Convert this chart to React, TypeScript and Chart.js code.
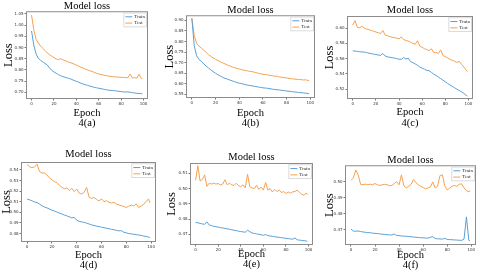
import React, { useEffect, useRef } from "react";
import { Chart, registerables } from "chart.js";

Chart.register(...registerables);

// ---------- data ----------
const EPOCHS = [0, 2, 4, 6, 8, 10, 12, 14, 16, 18, 20, 22, 24, 26, 28, 30, 32, 34, 36, 38, 40, 42, 44, 46, 48, 50, 52, 54, 56, 58, 60, 62, 64, 66, 68, 70, 72, 74, 76, 78, 80, 82, 84, 86, 88, 90, 92, 94, 96, 98, 99];
const X_TICKS = [0, 20, 40, 60, 80, 100];

const TRAIN_A = [0.974, 0.911, 0.872, 0.852, 0.843, 0.836, 0.829, 0.822, 0.809, 0.798, 0.791, 0.785, 0.779, 0.774, 0.770, 0.767, 0.764, 0.761, 0.757, 0.753, 0.749, 0.745, 0.741, 0.737, 0.734, 0.731, 0.728, 0.725, 0.722, 0.720, 0.718, 0.716, 0.714, 0.712, 0.710, 0.709, 0.708, 0.707, 0.706, 0.704, 0.703, 0.702, 0.701, 0.702, 0.700, 0.698, 0.697, 0.695, 0.695, 0.694, 0.693];
const TEST_A = [1.045, 0.980, 0.937, 0.920, 0.907, 0.897, 0.886, 0.876, 0.868, 0.862, 0.855, 0.849, 0.846, 0.850, 0.845, 0.841, 0.837, 0.833, 0.830, 0.826, 0.822, 0.817, 0.812, 0.808, 0.804, 0.800, 0.796, 0.793, 0.789, 0.785, 0.782, 0.779, 0.777, 0.775, 0.773, 0.772, 0.770, 0.769, 0.768, 0.768, 0.767, 0.766, 0.766, 0.765, 0.781, 0.764, 0.765, 0.763, 0.781, 0.761, 0.761];

const TRAIN_B = [0.909, 0.780, 0.733, 0.715, 0.706, 0.694, 0.684, 0.675, 0.666, 0.658, 0.650, 0.643, 0.637, 0.631, 0.626, 0.622, 0.618, 0.614, 0.610, 0.606, 0.603, 0.601, 0.598, 0.595, 0.593, 0.591, 0.589, 0.587, 0.585, 0.583, 0.581, 0.580, 0.579, 0.577, 0.575, 0.573, 0.572, 0.571, 0.569, 0.568, 0.566, 0.565, 0.563, 0.562, 0.561, 0.559, 0.558, 0.557, 0.556, 0.554, 0.553];
const TEST_B = [0.910, 0.827, 0.792, 0.778, 0.769, 0.759, 0.749, 0.738, 0.730, 0.722, 0.716, 0.710, 0.704, 0.699, 0.694, 0.689, 0.685, 0.680, 0.676, 0.673, 0.670, 0.667, 0.664, 0.662, 0.660, 0.658, 0.656, 0.653, 0.650, 0.648, 0.645, 0.644, 0.642, 0.640, 0.638, 0.636, 0.636, 0.632, 0.631, 0.629, 0.628, 0.625, 0.624, 0.623, 0.621, 0.621, 0.620, 0.618, 0.619, 0.616, 0.614];

const TRAIN_C = [0.5703, 0.5700, 0.5695, 0.5690, 0.5688, 0.5686, 0.5680, 0.5672, 0.5665, 0.5660, 0.5655, 0.5648, 0.5642, 0.5667, 0.5635, 0.5624, 0.5618, 0.5612, 0.5608, 0.5600, 0.5593, 0.5590, 0.5615, 0.5595, 0.5606, 0.5560, 0.5548, 0.5530, 0.5512, 0.5490, 0.5475, 0.5462, 0.5445, 0.5442, 0.5420, 0.5397, 0.5380, 0.5358, 0.5338, 0.5318, 0.5296, 0.5275, 0.5255, 0.5236, 0.5218, 0.5200, 0.5182, 0.5165, 0.5145, 0.5118, 0.5108];
const TEST_C = [0.604, 0.610, 0.601, 0.6005, 0.6025, 0.600, 0.599, 0.598, 0.597, 0.596, 0.595, 0.594, 0.593, 0.597, 0.591, 0.590, 0.589, 0.588, 0.5875, 0.587, 0.586, 0.5885, 0.585, 0.584, 0.583, 0.5815, 0.580, 0.579, 0.5835, 0.5765, 0.575, 0.573, 0.572, 0.5705, 0.573, 0.568, 0.5685, 0.5665, 0.5715, 0.564, 0.5625, 0.561, 0.559, 0.558, 0.5565, 0.555, 0.5565, 0.5525, 0.549, 0.545, 0.543];

const TRAIN_D = [0.5125, 0.5118, 0.5108, 0.5098, 0.5092, 0.5078, 0.5062, 0.5050, 0.5042, 0.5032, 0.5020, 0.5012, 0.5003, 0.4993, 0.4985, 0.4975, 0.4967, 0.4958, 0.4948, 0.4952, 0.4925, 0.4915, 0.4910, 0.4905, 0.4898, 0.4890, 0.4882, 0.4875, 0.4870, 0.4865, 0.4860, 0.4855, 0.4850, 0.4845, 0.4840, 0.4835, 0.4830, 0.4825, 0.4827, 0.4812, 0.4806, 0.4800, 0.4797, 0.4793, 0.4790, 0.4786, 0.4782, 0.4776, 0.4772, 0.4766, 0.4762];
const TEST_D = [0.5450, 0.5430, 0.5422, 0.5428, 0.5455, 0.5385, 0.5370, 0.5372, 0.5352, 0.5325, 0.5308, 0.5290, 0.5280, 0.5255, 0.5238, 0.5222, 0.5230, 0.5205, 0.5228, 0.5196, 0.5220, 0.5182, 0.5173, 0.5190, 0.5235, 0.5142, 0.5132, 0.5140, 0.5122, 0.5108, 0.5128, 0.5100, 0.5110, 0.5094, 0.5087, 0.5095, 0.5078, 0.5070, 0.5062, 0.5055, 0.5046, 0.5058, 0.5068, 0.5060, 0.5080, 0.5046, 0.5060, 0.5075, 0.5105, 0.5125, 0.5090];

const TRAIN_E = [0.4778, 0.4776, 0.4772, 0.4768, 0.4766, 0.4782, 0.4762, 0.4757, 0.4753, 0.4750, 0.4747, 0.4744, 0.4742, 0.4739, 0.4736, 0.4733, 0.4730, 0.4727, 0.4724, 0.4721, 0.4718, 0.4716, 0.4714, 0.4727, 0.4718, 0.4709, 0.4706, 0.4703, 0.4700, 0.4697, 0.4694, 0.4698, 0.4692, 0.4689, 0.4687, 0.4684, 0.4682, 0.4680, 0.4678, 0.4676, 0.4674, 0.4672, 0.4670, 0.4668, 0.4676, 0.4664, 0.4662, 0.4660, 0.4658, 0.4656, 0.4655];
const TEST_E = [0.5055, 0.5150, 0.5050, 0.5060, 0.5090, 0.5015, 0.5035, 0.5030, 0.5036, 0.5030, 0.5033, 0.5024, 0.5030, 0.5058, 0.5025, 0.5035, 0.5025, 0.5020, 0.5035, 0.5020, 0.5012, 0.5025, 0.5005, 0.5095, 0.5012, 0.5005, 0.5000, 0.5022, 0.4995, 0.5010, 0.4990, 0.5040, 0.4990, 0.5000, 0.4978, 0.4995, 0.4980, 0.4990, 0.4975, 0.4980, 0.4968, 0.4978, 0.4970, 0.4978, 0.4982, 0.4990, 0.4975, 0.4962, 0.4956, 0.4972, 0.4960];

const TRAIN_F = [0.4705, 0.4690, 0.4690, 0.4691, 0.4688, 0.4685, 0.4683, 0.4681, 0.4680, 0.4678, 0.4676, 0.4675, 0.4673, 0.4671, 0.4670, 0.4668, 0.4667, 0.4666, 0.4672, 0.4663, 0.4662, 0.4660, 0.4659, 0.4658, 0.4656, 0.4655, 0.4653, 0.4652, 0.4650, 0.4649, 0.4648, 0.4647, 0.4646, 0.4652, 0.4655, 0.4644, 0.4642, 0.4641, 0.4640, 0.4645, 0.4638, 0.4637, 0.4636, 0.4635, 0.4634, 0.4633, 0.4632, 0.4640, 0.4780, 0.4632, 0.4628];
const TEST_F = [0.5010, 0.5025, 0.5075, 0.5045, 0.4985, 0.4982, 0.4986, 0.4982, 0.4986, 0.4982, 0.4990, 0.4982, 0.4978, 0.4982, 0.4985, 0.4982, 0.4976, 0.4978, 0.4990, 0.5002, 0.4982, 0.5045, 0.4975, 0.4962, 0.4972, 0.4985, 0.5015, 0.4995, 0.4982, 0.4972, 0.4965, 0.4957, 0.4962, 0.4968, 0.5000, 0.4962, 0.4972, 0.5040, 0.5045, 0.4975, 0.4950, 0.4960, 0.4972, 0.4978, 0.4972, 0.4985, 0.4988, 0.4962, 0.4945, 0.4938, 0.4943];

const Y_TICKS_A = [0.70, 0.75, 0.80, 0.85, 0.90, 0.95, 1.00, 1.05];
const Y_TICKS_B = [0.55, 0.60, 0.65, 0.70, 0.75, 0.80, 0.85, 0.90];
const Y_TICKS_C = [0.52, 0.54, 0.56, 0.58, 0.60];
const Y_TICKS_D = [0.48, 0.49, 0.50, 0.51, 0.52, 0.53, 0.54];
const Y_TICKS_E = [0.47, 0.48, 0.49, 0.50, 0.51];
const Y_TICKS_F = [0.47, 0.48, 0.49, 0.50];

const CAPTIONS = ["4(a)", "4(b)", "4(c)", "4(d)", "4(e)", "4(f)"];
const TITLE = "Model loss";
const X_LABEL = "Epoch";
const Y_LABEL = "Loss";
const SERIES_NAMES = ["Train", "Test"];

// ---------- styling / layout ----------
const SERIF = '"Liberation Serif", "Times New Roman", serif';
const SANS = '"DejaVu Sans", sans-serif';
const BLUE = "#5a9fd4";
const ORANGE = "#f5a14f";

type PanelSpec = {
  train: number[]; test: number[]; yTicks: number[]; caption: string;
  yMin: number; yMax: number;
  left: number; top: number; w: number; h: number;
  L: number; R: number; T: number; B: number;
  titleY: number; capY: number; lossX: number;
};

const PANELS: PanelSpec[] = [
  { train: TRAIN_A, test: TEST_A, yTicks: Y_TICKS_A, caption: CAPTIONS[0], yMin: 0.670, yMax: 1.062, left: 0, top: 0, w: 160, h: 136, L: 26, R: 148, T: 11, B: 99, titleY: 6, capY: 123.5, lossX: 9 },
  { train: TRAIN_B, test: TEST_B, yTicks: Y_TICKS_B, caption: CAPTIONS[1], yMin: 0.533, yMax: 0.924, left: 160, top: 0, w: 160, h: 136, L: 26, R: 155, T: 15, B: 98, titleY: 10, capY: 123.3, lossX: 9.3 },
  { train: TRAIN_C, test: TEST_C, yTicks: Y_TICKS_C, caption: CAPTIONS[2], yMin: 0.507, yMax: 0.616, left: 320, top: 0, w: 160, h: 136, L: 27, R: 153, T: 16, B: 99, titleY: 10, capY: 123, lossX: 10 },
  { train: TRAIN_D, test: TEST_D, yTicks: Y_TICKS_D, caption: CAPTIONS[3], yMin: 0.472, yMax: 0.5475, left: 0, top: 136, w: 160, h: 137, L: 21, R: 156, T: 26, B: 106, titleY: 18.3, capY: 129.3, lossX: 6.5 },
  { train: TRAIN_E, test: TEST_E, yTicks: Y_TICKS_E, caption: CAPTIONS[4], yMin: 0.463, yMax: 0.5168, left: 160, top: 136, w: 160, h: 137, L: 30, R: 153, T: 27, B: 109, titleY: 21.7, capY: 128.3, lossX: 11.7 },
  { train: TRAIN_F, test: TEST_F, yTicks: Y_TICKS_F, caption: CAPTIONS[5], yMin: 0.4603, yMax: 0.5105, left: 320, top: 136, w: 160, h: 137, L: 25, R: 156, T: 29, B: 109, titleY: 24, capY: 129.3, lossX: 10 },
];

const chromePlugin = {
  id: "chrome",
  afterDatasetsDraw(chart: any) {
    const { ctx, chartArea: a } = chart;
    ctx.save();
    // axes frame
    ctx.strokeStyle = "#8c8c8c";
    ctx.lineWidth = 1;
    ctx.strokeRect(a.left + 0.5, a.top + 0.5, a.right - a.left - 1, a.bottom - a.top - 1);
    // legend (upper right, inside axes)
    ctx.font = `5px ${SERIF}`;
    const ds = chart.data.datasets;
    const names: string[] = ds.map((d: any) => d.label);
    const tw = Math.max(...names.map((n) => ctx.measureText(n).width));
    const padX = 1.5, handle = 7, gap = 2, row = 6.3, padY = 0.6;
    const w = padX + handle + gap + tw + padX;
    const h = padY * 2 + row * names.length;
    const x0 = a.right - 1.5 - w;
    const y0 = a.top + 1.8;
    ctx.fillStyle = "rgba(255,255,255,0.85)";
    ctx.fillRect(x0, y0, w, h);
    ctx.strokeStyle = "#d2d2d2";
    ctx.lineWidth = 0.8;
    ctx.strokeRect(x0, y0, w, h);
    names.forEach((n, i) => {
      const cy = y0 + padY + row * i + row / 2;
      ctx.strokeStyle = ds[i].borderColor;
      ctx.lineWidth = 1;
      ctx.beginPath();
      ctx.moveTo(x0 + padX, cy);
      ctx.lineTo(x0 + padX + handle, cy);
      ctx.stroke();
      ctx.fillStyle = "#222";
      ctx.textBaseline = "middle";
      ctx.textAlign = "left";
      ctx.fillText(n, x0 + padX + handle + gap, cy);
    });
    ctx.restore();
  },
};

function Panel({ p }: { p: PanelSpec }) {
  const ref = useRef<HTMLCanvasElement | null>(null);
  useEffect(() => {
    const canvas = ref.current;
    if (!canvas) return;
    const tickGrid = { display: true, drawOnChartArea: false, drawTicks: true, tickLength: 1.5, color: "#555", lineWidth: 0.8 };
    const chart = new Chart(canvas, {
      type: "line",
      data: {
        datasets: [
          { label: SERIES_NAMES[0], data: EPOCHS.map((x, i) => ({ x, y: p.train[i] })), borderColor: BLUE, backgroundColor: BLUE, borderWidth: 1, pointRadius: 0, fill: false, tension: 0 },
          { label: SERIES_NAMES[1], data: EPOCHS.map((x, i) => ({ x, y: p.test[i] })), borderColor: ORANGE, backgroundColor: ORANGE, borderWidth: 1, pointRadius: 0, fill: false, tension: 0 },
        ],
      },
      options: {
        responsive: false,
        animation: false,
        devicePixelRatio: 1,
        layout: { padding: { left: 0, top: 0, right: p.w - p.R, bottom: 0 } },
        plugins: {
          legend: { display: false },
          tooltip: { enabled: false },
          title: {
            display: true,
            text: TITLE,
            fullSize: false,
            color: "#000",
            font: { family: SERIF, size: 10.5, lineHeight: 1, weight: "normal" },
            padding: { top: p.titleY - 5.25, bottom: Math.max(0, p.T - p.titleY - 5.25) },
          },
        },
        scales: {
          x: {
            type: "linear",
            min: -4.95,
            max: 103.95,
            afterBuildTicks: (s: any) => { s.ticks = X_TICKS.map((v) => ({ value: v })); },
            afterFit: (s: any) => { s.height = p.h - p.B; },
            ticks: { font: { family: SANS, size: 4 }, color: "#333", padding: 1, maxRotation: 0, autoSkip: false, callback: (v: any) => String(v) },
            grid: tickGrid,
            border: { display: false },
            title: {
              display: true,
              text: [X_LABEL, p.caption],
              color: "#000",
              font: { family: SERIF, size: 10.5, lineHeight: 1.0 },
              padding: { top: 0, bottom: p.h - p.capY - 5.25 },
            },
          },
          y: {
            type: "linear",
            min: p.yMin,
            max: p.yMax,
            afterBuildTicks: (s: any) => { s.ticks = p.yTicks.map((v) => ({ value: v })); },
            afterFit: (s: any) => { s.width = p.L; },
            ticks: { font: { family: SANS, size: 4 }, color: "#333", padding: 1, autoSkip: false, callback: (v: any) => Number(v).toFixed(2) },
            grid: tickGrid,
            border: { display: false },
            title: {
              display: true,
              text: Y_LABEL,
              color: "#000",
              font: { family: SERIF, size: 12.5, lineHeight: 1 },
              padding: { top: p.lossX - 6.25, bottom: 0 },
            },
          },
        },
      },
      plugins: [chromePlugin],
    } as any);
    return () => chart.destroy();
  }, [p]);
  return (
    <canvas
      ref={ref}
      width={p.w}
      height={p.h}
      style={{ position: "absolute", left: p.left, top: p.top, width: p.w, height: p.h }}
    />
  );
}

export default function App() {
  return (
    <div style={{ position: "fixed", left: 0, top: 0, width: 480, height: 273, background: "#fff", overflow: "hidden" }}>
      {PANELS.map((p, i) => (
        <Panel key={i} p={p} />
      ))}
    </div>
  );
}
